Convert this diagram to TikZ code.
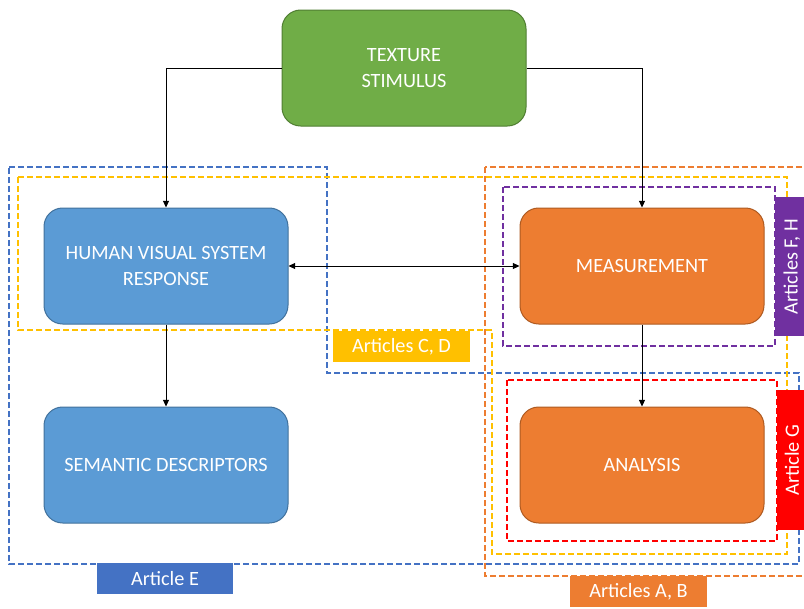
\documentclass[tikz,border=0pt]{standalone}
\usepackage{fontspec}
\setmainfont{Carlito}
\usetikzlibrary{arrows.meta}
\definecolor{grn}{HTML}{70AD47}
\definecolor{grnd}{HTML}{507E32}
\definecolor{blu}{HTML}{5B9BD5}
\definecolor{blud}{HTML}{41719C}
\definecolor{org}{HTML}{ED7D31}
\definecolor{orgd}{HTML}{AE5A21}
\definecolor{dblue}{HTML}{4472C4}
\definecolor{dyel}{HTML}{FFC000}
\definecolor{dpur}{HTML}{7030A0}
\definecolor{dred}{HTML}{FF0000}
\tikzset{
  procbox/.style={rectangle, rounded corners=14pt, minimum width=183pt, minimum height=87pt,
    line width=0.75pt, text=white, align=center, font=\fontsize{15.2}{19}\selectfont},
  dbox/.style={line width=1.6pt, dash pattern=on 4.5pt off 2.25pt},
  tag/.style={rectangle, inner sep=0pt, text=white, font=\fontsize{15.2}{19}\selectfont},
  arr/.style={line width=0.6pt, -{Triangle[length=5pt,width=4.5pt]}},
}
\begin{document}
\begin{tikzpicture}[x=0.75pt,y=-0.75pt]
\useasboundingbox (0,0) rectangle (804,608);
% dashed groups
\draw[dbox, dblue] (9,167) -- (327,167) -- (327,373) -- (799,373) -- (799,564) -- (9,564) -- cycle;
\draw[dbox, dyel] (18,177) -- (787,177) -- (787,554) -- (492,554) -- (492,330) -- (18,330) -- cycle;
\draw[dbox, org] (485,167) rectangle (815,576);
\draw[dbox, dpur] (503,187) rectangle (775,346);
\draw[dbox, dred] (507,380) rectangle (777,541);
% boxes
\node[procbox, fill=grn, draw=grnd] (tex) at (404,68) {TEXTURE\\STIMULUS};
\node[procbox, fill=blu, draw=blud] (hvs) at (166,266) {HUMAN VISUAL SYSTEM\\RESPONSE};
\node[procbox, fill=org, draw=orgd] (meas) at (642,266) {MEASUREMENT};
\node[procbox, fill=blu, draw=blud] (sem) at (166,465) {SEMANTIC DESCRIPTORS};
\node[procbox, fill=org, draw=orgd] (ana) at (642,465) {ANALYSIS};
% tags
\node[tag, fill=dblue, minimum width=102pt, minimum height=23.25pt] (tagE) at (165,578.5) {Article E};
\node[tag, fill=dyel, minimum width=102.75pt, minimum height=23.25pt] (tagCD) at (401.5,346.5) {Articles C, D};
\node[tag, fill=org, minimum width=102.75pt, minimum height=23.25pt] (tagAB) at (638.5,591.5) {Articles A, B};
\node[tag, fill=dpur, rotate=90, minimum width=104.25pt, minimum height=25.5pt] (tagFH) at (792,266.5) {Articles F, H};
\node[tag, fill=dred, rotate=90, minimum width=105pt, minimum height=22.5pt] (tagG) at (792,460) {Article G};
% connectors
\draw[arr] (tex.west) -| (hvs.north);
\draw[arr] (tex.east) -| (meas.north);
\draw[arr, {Triangle[length=5pt,width=4.5pt]}-{Triangle[length=5pt,width=4.5pt]}] (hvs) -- (meas);
\draw[arr] (hvs) -- (sem);
\draw[arr] (meas) -- (ana);
\end{tikzpicture}
\end{document}
